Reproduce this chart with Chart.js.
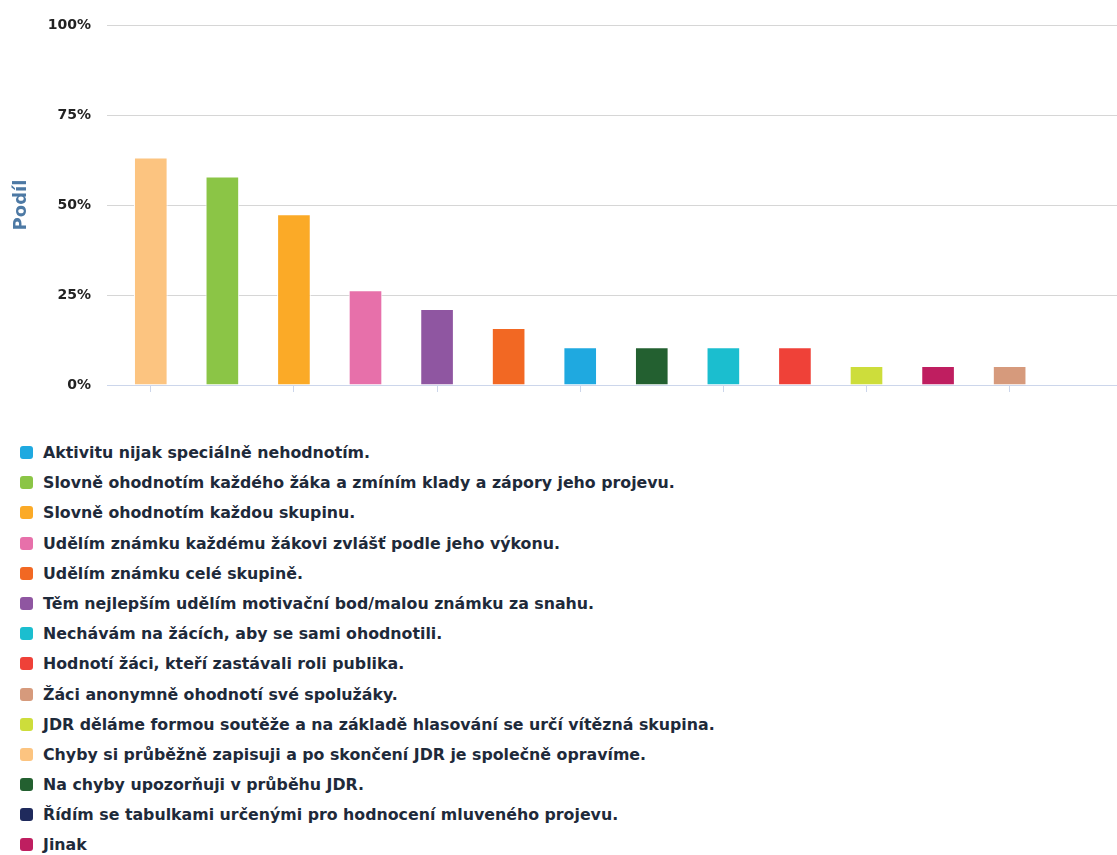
<!DOCTYPE html>
<html lang="cs">
<head>
<meta charset="utf-8">
<script src="https://cdn.jsdelivr.net/npm/chart.js@4"></script>
<style>
  body { margin: 0; background: #fff; }
  #wrap { position: relative; width: 1117px; height: 855px; }
  #legend { position: absolute; left: 20px; top: 438px; margin: 0; padding: 0; list-style: none;
            font: bold 15.8px "DejaVu Sans", sans-serif; color: #1e2a3a; }
  #legend li { height: 30.2px; line-height: 30.2px; white-space: nowrap; }
  #legend span { display: inline-block; width: 13px; height: 13px; border-radius: 3px;
                 margin-right: 10px; vertical-align: -1px; }
</style>
</head>
<body>
<div id="wrap">
  <canvas id="barChart" width="1117" height="420"></canvas>
  <ul id="legend"></ul>
</div>
<script>
// kategorie v pořadí sloupců (sestupně podle podílu)
var categories = [
  'Chyby si průběžně zapisuji a po skončení JDR je společně opravíme.',
  'Slovně ohodnotím každého žáka a zmíním klady a zápory jeho projevu.',
  'Slovně ohodnotím každou skupinu.',
  'Udělím známku každému žákovi zvlášť podle jeho výkonu.',
  'Těm nejlepším udělím motivační bod/malou známku za snahu.',
  'Udělím známku celé skupině.',
  'Aktivitu nijak speciálně nehodnotím.',
  'Na chyby upozorňuji v průběhu JDR.',
  'Nechávám na žácích, aby se sami ohodnotili.',
  'Hodnotí žáci, kteří zastávali roli publika.',
  'JDR děláme formou soutěže a na základě hlasování se určí vítězná skupina.',
  'Jinak',
  'Žáci anonymně ohodnotí své spolužáky.',
  'Řídím se tabulkami určenými pro hodnocení mluveného projevu.'
];
var shares = [63.2, 57.9, 47.4, 26.3, 21.1, 15.8, 10.5, 10.5, 10.5, 10.5, 5.3, 5.3, 5.3, 0];
var colors = ['#fcc480', '#8bc546', '#fbaa27', '#e770aa', '#8f56a1', '#f26823', '#1fa9e0',
              '#236030', '#1bbecf', '#ef4138', '#cddd3b', '#bf1e60', '#d69a7c', '#1f2a5c'];
// pořadí položek v legendě (indexy do categories)
var legendOrder = [6, 1, 2, 3, 5, 4, 8, 9, 12, 10, 0, 7, 13, 11];
var yTicks = [0, 25, 50, 75, 100];

document.addEventListener('DOMContentLoaded', function () {
  var ctx = document.getElementById('barChart').getContext('2d');
  var data = {
    labels: categories,
    datasets: [{
      label: 'Podíl',
      data: shares,
      backgroundColor: colors,
      borderColor: '#ffffff',
      borderWidth: 1,
      categoryPercentage: 1,
      barPercentage: 0.47
    }]
  };
  var barChart = new Chart(ctx, {
    type: 'bar',
    data: data,
    options: {
      responsive: false,
      animation: false,
      layout: { padding: { top: 25, right: 0, left: 0, bottom: 0 } },
      plugins: { legend: { display: false }, tooltip: { enabled: false } },
      scales: {
        x: {
          offset: true,
          afterFit: function (scale) { scale.height = 35; },
          ticks: { display: false },
          grid: {
            offset: false,
            drawOnChartArea: false,
            tickLength: 7,
            color: function (c) { return c.index % 2 === 0 ? '#ccd6eb' : 'rgba(0,0,0,0)'; }
          },
          border: { color: '#ccd6eb', width: 1 }
        },
        y: {
          min: 0,
          max: 100,
          afterFit: function (scale) { scale.width = 115; },
          afterBuildTicks: function (scale) {
            scale.ticks = yTicks.map(function (v) { return { value: v }; });
          },
          ticks: {
            padding: 16,
            color: '#222222',
            font: { family: 'DejaVu Sans', size: 14, weight: 'bold' },
            callback: function (v) { return v + '%'; }
          },
          grid: {
            tickLength: 8,
            color: function (c) { return c.tick && c.tick.value === 0 ? '#ccd6eb' : '#d6d6d6'; }
          },
          border: { display: false },
          title: {
            display: true,
            text: 'Podíl',
            color: '#4d79a4',
            padding: { top: 11, bottom: 0 },
            font: { family: 'DejaVu Sans', size: 18, weight: 'bold' }
          }
        }
      }
    }
  });

  // legenda pod grafem
  var list = document.getElementById('legend');
  legendOrder.forEach(function (i) {
    var li = document.createElement('li');
    var box = document.createElement('span');
    box.style.background = colors[i];
    li.appendChild(box);
    li.appendChild(document.createTextNode(categories[i]));
    list.appendChild(li);
  });
});
</script>
</body>
</html>
